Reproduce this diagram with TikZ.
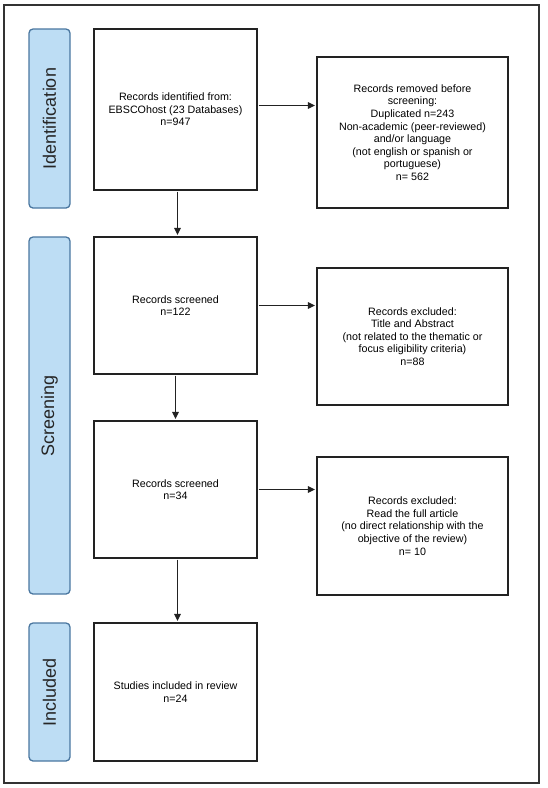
\documentclass[tikz,border=0pt]{standalone}
\usepackage{fontspec}
\setmainfont{Liberation Sans}
\usetikzlibrary{arrows.meta}
\definecolor{labfill}{HTML}{BDDDF4}
\definecolor{labdraw}{HTML}{4A77A0}
\definecolor{boxdraw}{HTML}{222222}
\begin{document}
\begin{tikzpicture}[x=1pt,y=-1pt,
  stagebox/.style={draw=labdraw,fill=labfill,line width=1.3pt,rounded corners=4pt,minimum width=41pt,inner sep=0pt},
  stagetext/.style={font=\fontsize{18}{20}\selectfont,text=black!85},
  mainbox/.style={draw=boxdraw,line width=1.1pt,minimum width=163pt,inner sep=0pt,align=center,font=\fontsize{10.7}{12.6}\selectfont,text=black},
  sidebox/.style={mainbox,minimum width=191pt},
  flow/.style={draw=boxdraw,line width=1.1pt,-{Triangle[length=7pt,width=6.5pt]},shorten >=1.5pt,shorten <=1pt}]
\useasboundingbox (0,0) rectangle (547,788);
\node[draw=black!80,line width=1.5pt,minimum width=535pt,minimum height=778pt,inner sep=0pt] (frame) at (271.5,394) {};
% stage labels
\node[stagebox,minimum height=179pt] (idlab) at (49.5,118.5) {};
\node[stagetext,rotate=90] (idtxt) at (idlab.center) {Identification};
\node[stagebox,minimum height=357pt] (scrlab) at (49.5,415.5) {};
\node[stagetext,rotate=90] (scrtxt) at (scrlab.center) {Screening};
\node[stagebox,minimum height=138pt] (inclab) at (49.5,692) {};
\node[stagetext,rotate=90] (inctxt) at (inclab.center) {Included};
% boxes
\node[mainbox,minimum height=161pt] (b1) at (175.5,109.5) {Records identified from:\\EBSCOhost (23 Databases)\\n=947};
\node[sidebox,minimum height=151pt] (r1) at (412.5,132.5) {Records removed before\\screening:\\Duplicated n=243\\Non-academic (peer-reviewed)\\and/or language\\(not english or spanish or\\portuguese)\\n= 562};
\node[mainbox,minimum height=137pt] (b2) at (175.5,305.5) {Records screened\\n=122};
\node[sidebox,minimum height=137pt] (r2) at (412.5,336.5) {Records excluded:\\Title and Abstract\\(not related to the thematic or\\focus eligibility criteria)\\n=88};
\node[mainbox,minimum height=137pt] (b3) at (175.5,489.5) {Records screened\\n=34};
\node[sidebox,minimum height=138pt] (r3) at (412.5,526) {Records excluded:\\Read the full article\\(no direct relationship with the\\objective of the review)\\n= 10};
\node[mainbox,minimum height=138pt] (b4) at (175.5,692) {Studies included in review\\n=24};
% connectors
\draw[flow] ([yshift=4pt]b1.east) -- ([yshift=4pt]b1.east -| r1.west);
\draw[flow] ([xshift=2pt]b1.south) -- ([xshift=2pt]b2.north);
\draw[flow] (b2.east) -- (b2.east -| r2.west);
\draw[flow] (b2.south) -- (b3.north);
\draw[flow] (b3.east) -- (b3.east -| r3.west);
\draw[flow] ([xshift=2pt]b3.south) -- ([xshift=2pt]b4.north);
\end{tikzpicture}
\end{document}
